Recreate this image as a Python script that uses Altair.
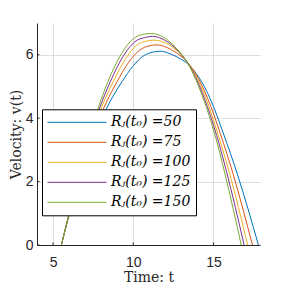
import altair as alt
import pandas as pd

labels = ["Rⱼ(t₀) =50", "Rⱼ(t₀) =75", "Rⱼ(t₀) =100", "Rⱼ(t₀) =125", "Rⱼ(t₀) =150"]
colors = ["#0072BD", "#D95319", "#EDB120", "#7E2F8E", "#77AC30"]

t_50 = [5.52, 6.0, 7.0, 8.3, 9.3, 10.0, 10.6, 11.2, 11.67, 12.3, 12.9, 13.44, 14.1, 14.79, 15.63, 16.5, 17.8]
v_50 = [0.0, 0.95, 2.6, 4.27, 5.15, 5.65, 5.95, 6.08, 6.11, 6.03, 5.88, 5.69, 5.28, 4.62, 3.5, 2.22, 0.0]
t_75 = [5.52, 6.0, 7.0, 8.12, 8.99, 9.71, 10.39, 10.99, 11.47, 12.09, 12.69, 13.25, 13.87, 14.63, 15.45, 16.21, 17.43]
v_75 = [0.0, 0.95, 2.72, 4.27, 5.15, 5.76, 6.14, 6.28, 6.31, 6.23, 6.06, 5.83, 5.42, 4.63, 3.48, 2.26, 0.0]
t_100 = [5.52, 5.99, 7.0, 7.97, 8.75, 9.48, 10.22, 10.82, 11.3, 11.92, 12.52, 13.1, 13.68, 14.51, 15.3, 15.98, 17.13]
v_100 = [0.0, 0.95, 2.82, 4.27, 5.15, 5.84, 6.3, 6.43, 6.46, 6.39, 6.21, 5.94, 5.54, 4.64, 3.46, 2.3, 0.0]
t_125 = [5.52, 5.98, 7.0, 7.87, 8.57, 9.31, 10.1, 10.7, 11.19, 11.8, 12.39, 12.99, 13.55, 14.42, 15.2, 15.81, 16.91]
v_125 = [0.0, 0.95, 2.89, 4.27, 5.15, 5.9, 6.41, 6.54, 6.58, 6.5, 6.31, 6.01, 5.62, 4.64, 3.45, 2.32, 0.0]
t_150 = [5.52, 5.98, 7.0, 7.78, 8.42, 9.17, 10.0, 10.6, 11.09, 11.7, 12.29, 12.9, 13.44, 14.34, 15.11, 15.67, 16.73]
v_150 = [0.0, 0.95, 2.95, 4.27, 5.15, 5.95, 6.5, 6.64, 6.67, 6.6, 6.4, 6.08, 5.69, 4.65, 3.44, 2.34, 0.0]

x_ticks = [5, 10, 15]
y_ticks = [0, 2, 4, 6]

series_t = [t_50, t_75, t_100, t_125, t_150]
series_v = [v_50, v_75, v_100, v_125, v_150]

rows = []
for lab, ts, vs in zip(labels, series_t, series_v):
    for i, (t, v) in enumerate(zip(ts, vs)):
        rows.append({"series": lab, "t": t, "v": v, "order": i})
df = pd.DataFrame(rows)

W, H = 223, 222
AX = "#262626"

xscale = alt.Scale(domain=[4, 17.9], nice=False, zero=False)
yscale = alt.Scale(domain=[0, 7], nice=False, zero=False)

common_axis = dict(
    grid=True, gridColor="#dedede", gridWidth=1,
    domainColor=AX, domainWidth=1, ticks=False,
    labelFont="Liberation Sans", labelFontSize=14, labelColor=AX,
    titleFont="DejaVu Serif", titleFontSize=14, titleFontWeight="normal",
    titleColor=AX, titleBaseline="alphabetic", labelFlush=False,
)

lines = alt.Chart(df).mark_line(strokeWidth=1, interpolate="monotone").encode(
    x=alt.X("t:Q", scale=xscale,
            axis=alt.Axis(values=x_ticks, title="Time: t", labelPadding=10,
                          titleY=36.5, **common_axis)),
    y=alt.Y("v:Q", scale=yscale,
            axis=alt.Axis(values=y_ticks, title="Velocity: v(t)", labelPadding=4,
                          titleX=-17, **common_axis)),
    color=alt.Color("series:N", sort=labels,
                    scale=alt.Scale(domain=labels, range=colors),
                    legend=alt.Legend(
                        orient="none", legendX=5, legendY=86.3, title=None,
                        symbolType="stroke", symbolSize=3481, symbolStrokeWidth=1,
                        clipHeight=16, rowPadding=4, padding=5,
                        fillColor="white", strokeColor="black",
                        labelFont="DejaVu Serif", labelFontSize=14,
                        labelFontStyle="italic", labelColor="black",
                        labelOffset=4, symbolOffset=0, labelLimit=0)),
    order="order:Q",
)

tick_df = pd.DataFrame({"t": x_ticks})
ytick_df = pd.DataFrame({"v": y_ticks})

xt = alt.Chart(tick_df).mark_rule(color=AX, strokeWidth=1).encode(
    x=alt.X("t:Q", scale=xscale), y=alt.value(H), y2=alt.value(H - 2.5))
yt = alt.Chart(ytick_df).mark_rule(color=AX, strokeWidth=1).encode(
    y=alt.Y("v:Q", scale=yscale), x=alt.value(0), x2=alt.value(2.5))

chart = alt.layer(lines, xt, yt).properties(
    width=W, height=H,
    autosize=alt.AutoSizeParams(type="none"),
    padding={"left": 29, "top": 15, "right": 20, "bottom": 46},
    background="white",
).configure_view(stroke=None)

chart.save("out.html", embed_options={"renderer": "svg", "actions": False})
